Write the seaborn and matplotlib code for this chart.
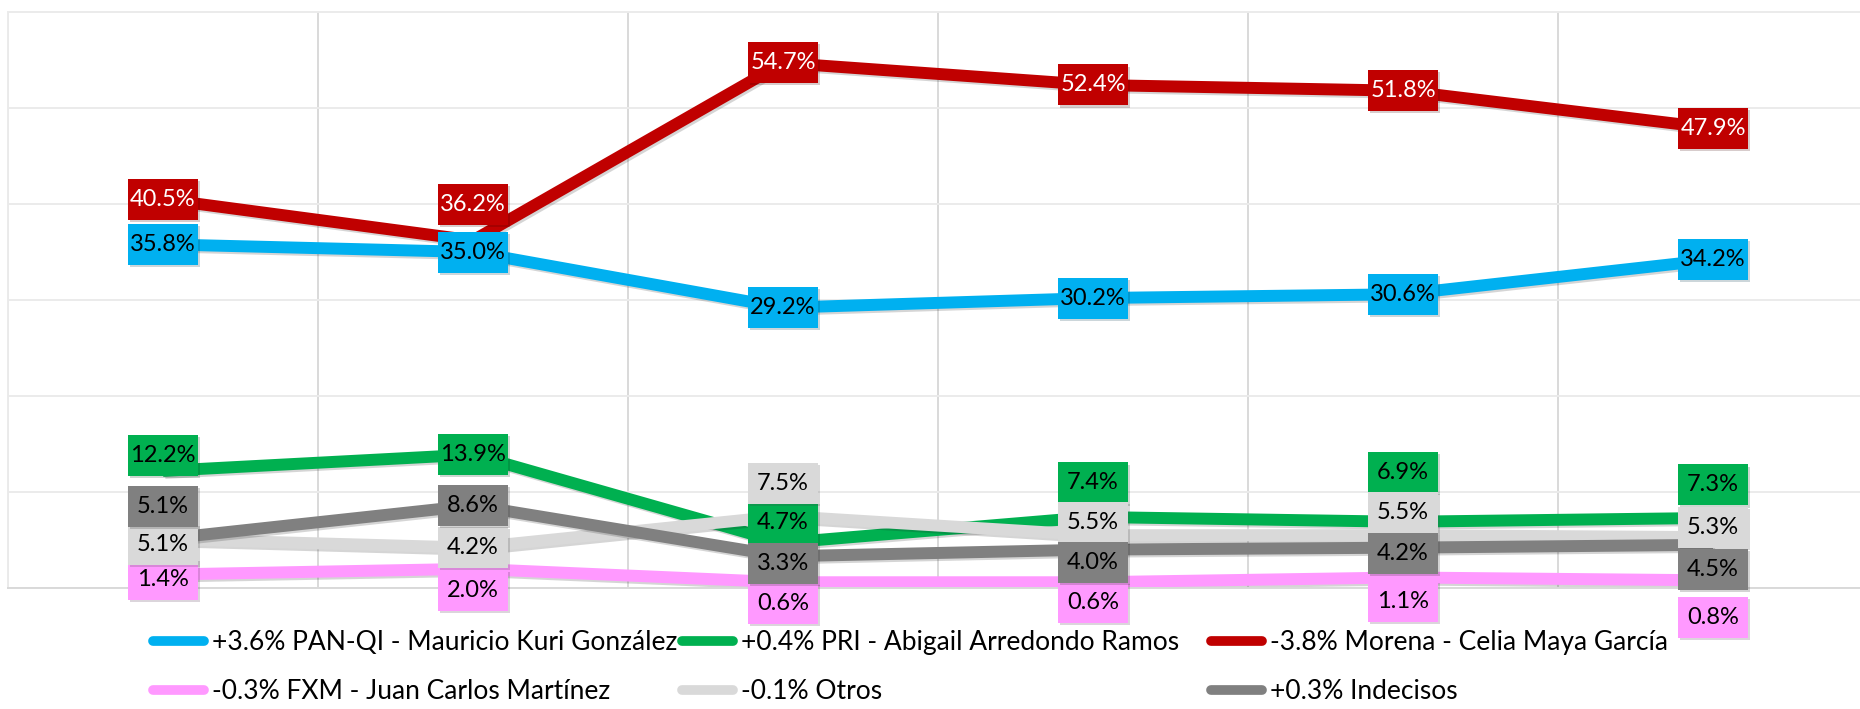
import matplotlib
matplotlib.use("Agg")
import matplotlib.pyplot as plt
import matplotlib.patheffects as pe
from matplotlib.lines import Line2D
from matplotlib.path import Path
import seaborn as sns
import pandas as pd

# ---------------- data ----------------
categories = ["M1", "M2", "M3", "M4", "M5", "M6"]
series_names = ["PAN", "PRI", "Morena", "FXM", "Otros", "Indecisos"]
legend_labels = [
    "+3.6% PAN-QI - Mauricio Kuri González",
    "+0.4% PRI - Abigail Arredondo Ramos",
    "-3.8% Morena - Celia Maya García",
    "-0.3% FXM - Juan Carlos Martínez",
    "-0.1% Otros",
    "+0.3% Indecisos",
]
pan = [35.8, 35.0, 29.2, 30.2, 30.6, 34.2]
pri = [12.2, 13.9, 4.7, 7.4, 6.9, 7.3]
morena = [40.5, 36.2, 54.7, 52.4, 51.8, 47.9]
fxm = [1.4, 2.0, 0.6, 0.6, 1.1, 0.8]
otros = [5.1, 4.2, 7.5, 5.5, 5.5, 5.3]
indecisos = [5.1, 8.6, 3.3, 4.0, 4.2, 4.5]
values = [pan, pri, morena, fxm, otros, indecisos]

# ---------------- style ----------------
colors = ["#00B0F0", "#00B050", "#C00000", "#FF99FF", "#D9D9D9", "#808080"]
text_colors = ["black", "black", "white", "black", "black", "black"]
# label vertical displacement in pixels (negative = up)
label_shift_px = [
    [0, 0, 0, 0, 0, 0],
    [-15, 0, -20, -34, -49, -33],
    [0, -36, 0, 0, 0, 0],
    [5, 22, 21, 20, 24, 37],
    [5, 0, -33, -13, -23, -10],
    [-33, 0, 7, 13, 6, 25],
]
BOX_W, BOX_H = 70, 41


def fixed_box(x0, y0, width, height, mutation_size):
    cx = x0 + width / 2
    cy = y0 + height / 2
    w, h = BOX_W, BOX_H
    verts = [(cx - w / 2, cy - h / 2), (cx + w / 2, cy - h / 2),
             (cx + w / 2, cy + h / 2), (cx - w / 2, cy + h / 2),
             (cx - w / 2, cy - h / 2)]
    return Path(verts, closed=True)


rows = []
for name, vals in zip(series_names, values):
    for i, v in enumerate(vals):
        rows.append({"x": i, "cat": categories[i], "value": v, "series": name})
df = pd.DataFrame(rows)

sns.set_theme(style="white")
plt.rcParams["font.family"] = ["Lato", "DejaVu Sans"]

W, H = 1860, 709
fig = plt.figure(figsize=(W / 100, H / 100), dpi=100)
left_px, top_px, bottom_px = 8, 12, 588
ax = fig.add_axes([left_px / W, 1 - bottom_px / H, 1.0, (bottom_px - top_px) / H])

sns.lineplot(data=df, x="x", y="value", hue="series", hue_order=series_names,
             palette=dict(zip(series_names, colors)), linewidth=8.6, ax=ax,
             legend=False, sort=False)

for line in ax.get_lines():
    line.set_solid_joinstyle("round")
    line.set_solid_capstyle("butt")
    line.set_path_effects([pe.SimpleLineShadow(offset=(1.5, -1.5), alpha=0.18),
                           pe.Normal()])

ax.set_xlim(-0.5, len(categories) - 0.5)
ax.set_ylim(0, 60)
ax.set_yticks(range(0, 61, 10))
ax.set_xticks([i - 0.5 for i in range(len(categories) + 1)])
ax.set_xticklabels([])
ax.set_yticklabels([])
ax.tick_params(length=0)
ax.set_xlabel("")
ax.set_ylabel("")
ax.yaxis.grid(True, color="#EBEBEB", lw=1.4)
ax.xaxis.grid(True, color="#D9D9D9", lw=1.4)
ax.set_axisbelow(True)
for s in ["top", "left"]:
    ax.spines[s].set_color("#EBEBEB")
    ax.spines[s].set_linewidth(1.4)
ax.spines["bottom"].set_color("#D9D9D9")
ax.spines["bottom"].set_linewidth(1.4)
ax.spines["right"].set_visible(False)

# data labels
for vals, shifts, c, tc in zip(values, label_shift_px, colors, text_colors):
    for i, (v, s) in enumerate(zip(vals, shifts)):
        t = ax.annotate(f"{v:.1f}%", (i, v), xytext=(0, -s * 0.72),
                        textcoords="offset points", ha="center", va="center",
                        fontsize=17, color=tc, zorder=10, annotation_clip=False,
                        bbox=dict(boxstyle=fixed_box, fc=c, ec="none"))
        t.get_bbox_patch().set_path_effects(
            [pe.SimplePatchShadow(offset=(1.5, -1.5), alpha=0.2), pe.Normal()])

# legend in three columns
fs = 19
fs_px = fs * 100 / 72
col_x = [153, 682, 1211]
col_items = [[0, 3], [1, 4], [2, 5]]
for xpx, items in zip(col_x, col_items):
    handles = [Line2D([0], [0], color=colors[k], lw=7, solid_capstyle="round")
               for k in items]
    labels = [legend_labels[k] for k in items]
    leg = fig.legend(handles, labels, loc="center left",
                     bbox_to_anchor=(xpx / W, 1 - 667 / H), frameon=False,
                     fontsize=fs, handlelength=51 / fs_px,
                     handletextpad=8 / fs_px, labelspacing=0.9,
                     borderpad=0, borderaxespad=0)
    for txt in leg.get_texts():
        txt.set_color("black")

fig.savefig("out.png", dpi=100, facecolor="white")
